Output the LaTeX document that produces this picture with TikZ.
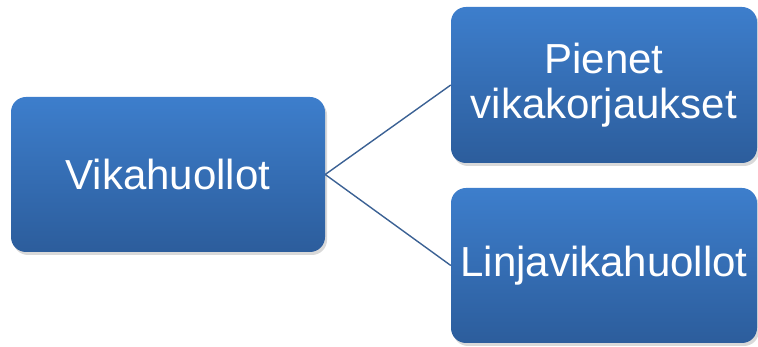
\documentclass[tikz,border=0pt]{standalone}
\usepackage{fontspec}
\setmainfont{Liberation Sans}
\usetikzlibrary{shadows}
\definecolor{boxtop}{HTML}{3D7ECC}
\definecolor{boxbot}{HTML}{2C5D9C}
\definecolor{linkcol}{HTML}{3B6194}
\tikzset{
  box/.style={rectangle, rounded corners=15pt, top color=boxtop, bottom color=boxbot,
    draw=none, text=white, align=center, inner sep=0pt,
    font=\fontsize{42}{45}\selectfont,
    drop shadow={opacity=0.3, shadow xshift=2pt, shadow yshift=-3pt}},
  link/.style={draw=linkcol, line width=1.4pt}
}
\begin{document}
\begin{tikzpicture}[x=1pt,y=1pt]
\useasboundingbox (0,0) rectangle (758,347);
\node[box, minimum width=314pt, minimum height=155pt] (root) at (168,172.5) {Vikahuollot};
\node[box, minimum width=306pt, minimum height=156pt] (a) at (604,262) {Pienet\\vikakorjaukset};
\node[box, minimum width=306pt, minimum height=155pt] (b) at (604,81.5) {Linjavikahuollot};
\draw[link] (root.east) -- (a.west);
\draw[link] (root.east) -- (b.west);
\end{tikzpicture}
\end{document}
